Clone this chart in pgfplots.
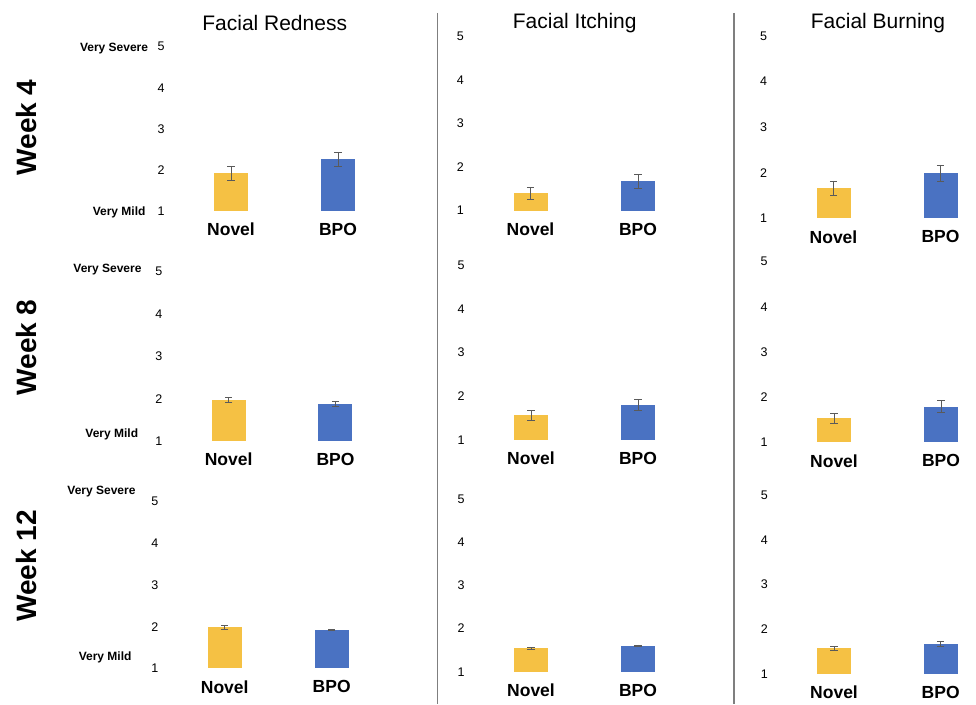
\documentclass[border=0pt]{standalone}
\usepackage{pgfplots}
\pgfplotsset{compat=1.18}
\usepackage{fontspec}
\setmainfont{Liberation Sans}

\definecolor{novelc}{HTML}{F5C144}
\definecolor{bpoc}{HTML}{4A72C2}
\definecolor{errc}{HTML}{5A5A5A}
\definecolor{divc}{HTML}{7F7F7F}

\pgfplotsset{
  panel/.style={
    scale only axis, anchor=south west,
    xmin=-0.6, xmax=1.3, ymin=1, ymax=5,
    ytick={1,2,3,4,5}, xtick={0,1}, xticklabels={Novel,BPO},
    axis line style={draw=none}, tick style={draw=none}, major tick length=0pt,
    /pgf/number format/assume math mode=true,
    yticklabel style={font=\fontsize{12.5}{14}\selectfont, inner xsep=2pt},
    xticklabel style={font=\bfseries\fontsize{17.5}{20}\selectfont, inner sep=0pt, yshift=-12pt},
  },
  sev/.style={ybar, bar width=34pt, bar shift=0pt, draw=none,
    error bars/y dir=both, error bars/y explicit,
    error bars/error bar style={line width=0.8pt, color=errc},
    error bars/error mark options={rotate=90, mark size=3.6pt, line width=0.8pt, color=errc}},
}

\newcommand{\lab}[1]{\bfseries\fontsize{12}{14}\selectfont #1}

\begin{document}
\begin{tikzpicture}[x=1pt,y=1pt]
\useasboundingbox (0,0) rectangle (976,704);

% column separators
\draw[divc, line width=1.2pt] (437.5,691) -- (437.5,0);
\draw[divc, line width=1.2pt] (734,691) -- (734,0);

% column titles
\node[font=\fontsize{21}{24}\selectfont] at (274.7,681.3) {Facial Redness};
\node[font=\fontsize{21}{24}\selectfont] at (574.7,681.3) {Facial Itching};
\node[font=\fontsize{21}{24}\selectfont] at (878,680.7) {Facial Burning};

% row titles
\node[rotate=90, font=\bfseries\fontsize{28}{32}\selectfont] at (26.7,576.5) {Week 4};
\node[rotate=90, font=\bfseries\fontsize{28}{32}\selectfont] at (26.7,356.5) {Week 8};
\node[rotate=90, font=\bfseries\fontsize{28}{32}\selectfont] at (26.7,138) {Week 12};

% scale anchors
\node[anchor=east, inner sep=0pt] at (148.3,655.7) {\lab{Very Severe}};
\node[anchor=east, inner sep=0pt] at (145.7,491.3) {\lab{Very Mild}};
\node[anchor=east, inner sep=0pt] at (141.7,434.7) {\lab{Very Severe}};
\node[anchor=east, inner sep=0pt] at (138.3,269.7) {\lab{Very Mild}};
\node[anchor=east, inner sep=0pt] at (135.7,212.3) {\lab{Very Severe}};
\node[anchor=east, inner sep=0pt] at (131.7,46.7) {\lab{Very Mild}};

% ---------------- Week 4 ----------------
\begin{axis}[panel, at={(166.8pt,493pt)}, width=203.3pt, height=164.3pt]
  \addplot[fill=novelc, sev] coordinates {(0,1.92) +- (0,0.17)};
  \addplot[fill=bpoc, sev]   coordinates {(1,2.26) +- (0,0.17)};
\end{axis}
\begin{axis}[panel, at={(466pt,493.3pt)}, width=204.3pt, height=174pt]
  \addplot[fill=novelc, sev] coordinates {(0,1.40) +- (0,0.14)};
  \addplot[fill=bpoc, sev]   coordinates {(1,1.68) +- (0,0.16)};
\end{axis}
\begin{axis}[panel, at={(769.3pt,485.7pt)}, width=203.3pt, height=182.3pt]
  \addplot[fill=novelc, sev] coordinates {(0,1.66) +- (0,0.16)};
  \addplot[fill=bpoc, sev]   coordinates {(1,1.99) +- (0,0.18)};
\end{axis}

% ---------------- Week 8 ----------------
\begin{axis}[panel, at={(164.6pt,263pt)}, width=202.9pt, height=169.3pt]
  \addplot[fill=novelc, sev] coordinates {(0,1.97) +- (0,0.05)};
  \addplot[fill=bpoc, sev]   coordinates {(1,1.88) +- (0,0.06)};
\end{axis}
\begin{axis}[panel, at={(466.8pt,264pt)}, width=203.3pt, height=175pt]
  \addplot[fill=novelc, sev] coordinates {(0,1.56) +- (0,0.12)};
  \addplot[fill=bpoc, sev]   coordinates {(1,1.80) +- (0,0.13)};
\end{axis}
\begin{axis}[panel, at={(769.8pt,261.7pt)}, width=203.3pt, height=180.6pt]
  \addplot[fill=novelc, sev] coordinates {(0,1.53) +- (0,0.11)};
  \addplot[fill=bpoc, sev]   coordinates {(1,1.79) +- (0,0.13)};
\end{axis}

% ---------------- Week 12 ----------------
\begin{axis}[panel, at={(160.5pt,35.7pt)}, width=203.3pt, height=166.6pt]
  \addplot[fill=novelc, sev] coordinates {(0,1.98) +- (0,0.04)};
  \addplot[fill=bpoc, sev]   coordinates {(1,1.93) +- (0,0.01)};
\end{axis}
\begin{axis}[panel, at={(466.8pt,32.3pt)}, width=203.3pt, height=172.4pt]
  \addplot[fill=novelc, sev] coordinates {(0,1.54) +- (0,0.02)};
  \addplot[fill=bpoc, sev]   coordinates {(1,1.60) +- (0,0.02)};
\end{axis}
\begin{axis}[panel, at={(770pt,30pt)}, width=202.7pt, height=179pt]
  \addplot[fill=novelc, sev] coordinates {(0,1.57) +- (0,0.05)};
  \addplot[fill=bpoc, sev]   coordinates {(1,1.67) +- (0,0.06)};
\end{axis}
\end{tikzpicture}
\end{document}
